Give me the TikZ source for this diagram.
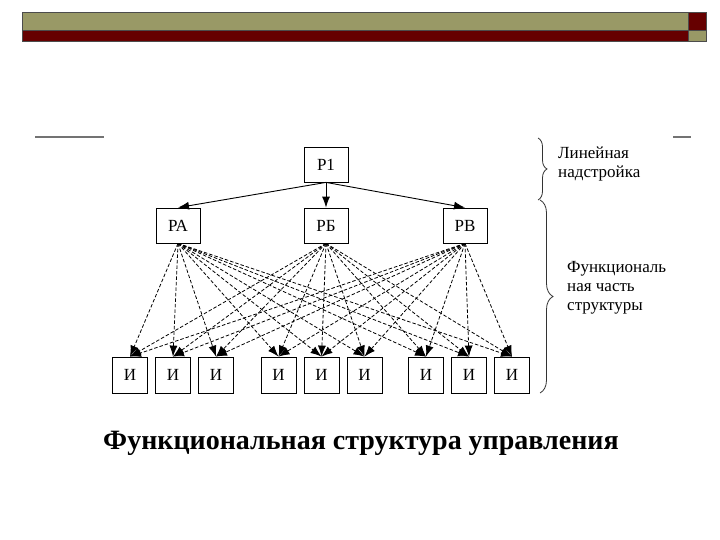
\documentclass[tikz,border=0pt]{standalone}
\usepackage{fontspec}
\setmainfont{Liberation Serif}
\usepackage{xcolor}
\usetikzlibrary{arrows.meta,decorations.pathreplacing}

\definecolor{barolive}{RGB}{153,153,102}
\definecolor{barred}{RGB}{102,0,0}

\begin{document}
\begin{tikzpicture}[x=1pt, y=-1pt, node distance=43pt, >={Latex[length=11pt,width=8pt]},
    box/.style={draw, line width=0.8pt, minimum width=44pt, minimum height=35pt, inner sep=0pt, font=\fontsize{17}{19}\selectfont},
    leaf/.style={draw, line width=0.8pt, minimum width=35pt, minimum height=36pt, inner sep=0pt, font=\fontsize{17}{19}\selectfont},
    link/.style={->, dash pattern=on 3.5pt off 2pt, line width=0.8pt},
    note/.style={anchor=north west, align=left, inner sep=0pt, font=\fontsize{17}{19}\selectfont}]
    \useasboundingbox (0,0) rectangle (720,540);

    % title bar
    \filldraw[fill=barolive, draw=black!70] (22,12) rectangle (688,30);
    \filldraw[fill=barred, draw=black!70] (22,30) rectangle (688,41);
    \filldraw[fill=barred, draw=black!70] (688,12) rectangle (706,30);
    \filldraw[fill=barolive, draw=black!70] (688,30) rectangle (706,41);
    \draw[black!55, line width=2pt] (35,137) -- (104,137);
    \draw[black!55, line width=2pt] (673,137) -- (691,137);

    \node[box] (p1) at (326,164.5) {Р1};
    \node[box] (pa) at (178,225.5) {РА};
    \node[box] (pb) at (326,225.5) {РБ};
    \node[box] (pv) at (465,225.5) {РВ};

    \node[leaf] (i2) at (173,375) {И};
    \node[leaf, left of=i2] (i1) {И};
    \node[leaf, right of=i2] (i3) {И};
    \node[leaf] (i5) at (321.5,375) {И};
    \node[leaf, left of=i5] (i4) {И};
    \node[leaf, right of=i5] (i6) {И};
    \node[leaf] (i8) at (469,375) {И};
    \node[leaf, left of=i8] (i7) {И};
    \node[leaf, right of=i8] (i9) {И};

    \draw[->, line width=0.9pt] (p1.south) -- (pa.north);
    \draw[->, line width=0.9pt] (p1.south) -- (pb.north);
    \draw[->, line width=0.9pt] (p1.south) -- (pv.north);

    % every head talks to every executor
    \foreach \src in {pa,pb,pv}
        \foreach \n in {1,...,9}
            \draw[link] (\src.south) -- (i\n.north);

    \draw[decorate, decoration={brace, amplitude=9pt}, line width=0.8pt, black!80] (538,138) -- (538,200);
    \draw[decorate, decoration={brace, amplitude=13pt}, line width=0.8pt, black!80] (540,200) -- (540,393);
    \node[note] (upper) at (558,147) {Линейная\\надстройка};
    \node[note] (lower) at (567,261) {Функциональ\\ная часть\\структуры};

    \node[font=\bfseries\fontsize{28}{32}\selectfont, anchor=base] (title) at (361,449) {Функциональная структура управления};
\end{tikzpicture}
\end{document}
